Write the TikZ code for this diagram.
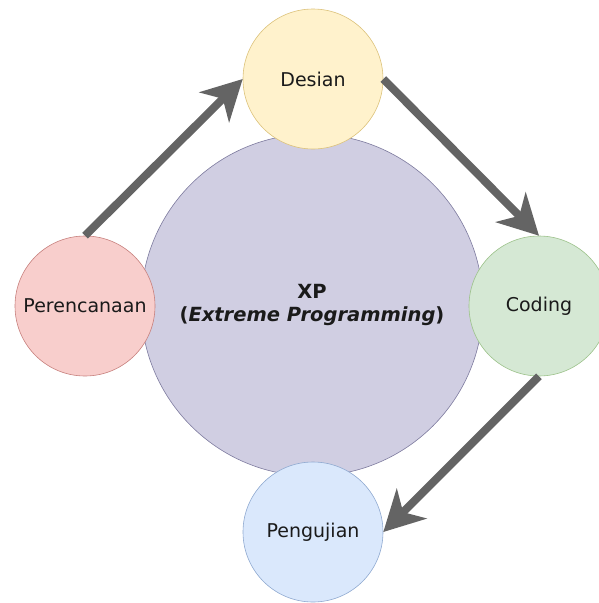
\documentclass[tikz,border=0pt]{standalone}
\usepackage{fontspec}
\setmainfont{DejaVu Sans}
\usetikzlibrary{arrows.meta}
\definecolor{arrowgray}{HTML}{646464}
\definecolor{bigfill}{HTML}{D0CEE2}\definecolor{bigdraw}{HTML}{7D7A9E}
\definecolor{yfill}{HTML}{FFF2CC}\definecolor{ydraw}{HTML}{DCC27A}
\definecolor{rfill}{HTML}{F8CECC}\definecolor{rdraw}{HTML}{C7807D}
\definecolor{gfill}{HTML}{D5E8D4}\definecolor{gdraw}{HTML}{9CC28A}
\definecolor{bfill}{HTML}{DAE8FC}\definecolor{bdraw}{HTML}{8FA9D0}
\definecolor{txt}{HTML}{1A1A1A}
\tikzset{
  phase/.style={circle, minimum size=140pt, inner sep=0pt, line width=0.6pt,
    font=\fontsize{19}{23}\selectfont, text=txt},
  flow/.style={draw=arrowgray, line width=8pt,
    -{Stealth[length=40pt, width=42pt, inset=12pt]}}
}
\begin{document}
\begin{tikzpicture}[x=1pt,y=-1pt]
\useasboundingbox (0,0) rectangle (599,603);
\node[circle, minimum size=342pt, inner sep=0pt, fill=bigfill, draw=bigdraw, line width=0.6pt,
  align=center, text=txt, font=\fontsize{19.5}{23}\selectfont\bfseries] (xp) at (312,305)
  {XP\\(\textit{Extreme Programming})};
\node[phase, fill=yfill, draw=ydraw] (des) at (313,79) {Desian};
\node[phase, fill=rfill, draw=rdraw] (per) at (85,306) {Perencanaan};
\node[phase, fill=gfill, draw=gdraw] (cod) at (539,306) {Coding};
\node[phase, fill=bfill, draw=bdraw] (pen) at (313,532) {Pengujian};
\draw[flow] (per.north) -- (des.west);
\draw[flow] (des.east) -- (cod.north);
\draw[flow] (cod.south) -- (pen.east);
\end{tikzpicture}
\end{document}
